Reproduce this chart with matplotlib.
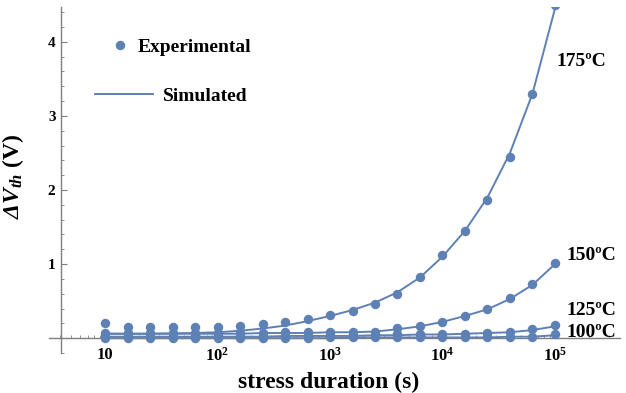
import matplotlib
matplotlib.use("Agg")
import matplotlib.pyplot as plt
import matplotlib.ticker as mticker
import numpy as np
from matplotlib.lines import Line2D

plt.rcParams.update(
    {
        "font.family": "Liberation Serif",
        "font.weight": "bold",
        "mathtext.fontset": "custom",
        "mathtext.rm": "Liberation Serif:bold",
        "mathtext.it": "Liberation Serif:italic:bold",
        "mathtext.bf": "Liberation Serif:bold",
        # sf slot used to get an italic capital Delta
        "mathtext.sf": "Liberation Serif:italic:bold",
    }
)

# stress time points (s), 5 per decade
t = [10, 15.85, 25.12, 39.81, 63.10, 100, 158.5, 251.2, 398.1, 631.0, 1000,
     1585, 2512, 3981, 6310, 10000, 15850, 25120, 39810, 63100, 100000]

# experimental dVth (V)
exp_175 = [0.20, 0.15, 0.15, 0.15, 0.15, 0.15, 0.16, 0.19, 0.22, 0.26, 0.31,
           0.37, 0.46, 0.60, 0.82, 1.12, 1.45, 1.87, 2.44, 3.30, 4.50]
exp_150 = [0.07, 0.07, 0.07, 0.07, 0.07, 0.07, 0.07, 0.07, 0.08, 0.08, 0.08,
           0.08, 0.09, 0.14, 0.17, 0.22, 0.30, 0.39, 0.54, 0.73, 1.01]
exp_125 = [0.03, 0.03, 0.03, 0.03, 0.03, 0.03, 0.03, 0.03, 0.03, 0.03, 0.04,
           0.04, 0.04, 0.05, 0.05, 0.06, 0.06, 0.07, 0.08, 0.12, 0.18]
exp_100 = [0.00, 0.00, 0.00, 0.00, 0.00, 0.00, 0.00, 0.00, 0.00, 0.00, 0.01,
           0.01, 0.01, 0.01, 0.01, 0.01, 0.01, 0.01, 0.02, 0.02, 0.05]

# simulated dVth (V)
sim_175 = [0.06, 0.06, 0.06, 0.065, 0.07, 0.08, 0.10, 0.13, 0.17, 0.23, 0.30,
           0.38, 0.48, 0.62, 0.82, 1.10, 1.45, 1.90, 2.50, 3.30, 4.45]
sim_150 = [0.06, 0.06, 0.06, 0.06, 0.06, 0.06, 0.06, 0.07, 0.07, 0.07, 0.08,
           0.08, 0.09, 0.12, 0.16, 0.22, 0.30, 0.39, 0.53, 0.72, 1.00]
sim_125 = [0.02, 0.02, 0.02, 0.02, 0.02, 0.02, 0.02, 0.02, 0.03, 0.03, 0.03,
           0.03, 0.04, 0.04, 0.05, 0.05, 0.06, 0.07, 0.08, 0.11, 0.16]
sim_100 = [0.00, 0.00, 0.00, 0.00, 0.00, 0.00, 0.00, 0.00, 0.00, 0.00, 0.00,
           0.01, 0.01, 0.01, 0.01, 0.01, 0.01, 0.01, 0.02, 0.02, 0.04]

temps = ["175ºC", "150ºC", "125ºC", "100ºC"]

BLUE = "#5E81B5"
AXIS_GREY = "#7f7f7f"

W, H = 626, 393
fig = plt.figure(figsize=(W / 100, H / 100), dpi=100)
ax = fig.add_axes([49 / W, 1 - 353 / H, (620 - 49) / W, (353 - 7) / H])

for sim in [sim_175, sim_150, sim_125, sim_100]:
    ax.plot(t, sim, color=BLUE, lw=1.4, zorder=2)
for ex in [exp_175, exp_150, exp_125, exp_100]:
    ax.plot(t, ex, "o", color=BLUE, ms=6.8, mec="none", zorder=3)

ax.set_xscale("log")
ax.set_xlim(10 ** 0.502, 10 ** 5.578)
ax.set_ylim(-0.2, 4.47)

for s in ["top", "right"]:
    ax.spines[s].set_visible(False)
ax.spines["left"].set_position(("data", 10 ** 0.609))
ax.spines["bottom"].set_position(("data", 0))
for s in ["left", "bottom"]:
    ax.spines[s].set_color(AXIS_GREY)
    ax.spines[s].set_linewidth(1.0)

ax.set_xticks([10, 1e2, 1e3, 1e4, 1e5])
ax.set_xticklabels(["10", "$10^{2}$", "$10^{3}$", "$10^{4}$", "$10^{5}$"])
ax.xaxis.set_minor_locator(mticker.LogLocator(base=10, subs=np.arange(2, 10)))
ax.xaxis.set_minor_formatter(mticker.NullFormatter())
ax.set_yticks([1, 2, 3, 4])
ax.yaxis.set_minor_locator(mticker.MultipleLocator(0.2))

ax.tick_params(axis="both", which="major", direction="in", length=4, width=0.8,
               color=AXIS_GREY, labelcolor="black")
ax.tick_params(axis="both", which="minor", direction="in", length=2, width=0.6,
               color=AXIS_GREY)
ax.tick_params(axis="x", which="major", pad=6, labelsize=12)
ax.tick_params(axis="y", which="major", pad=4, labelsize=11)

ax.set_xlabel("stress duration (s)", fontsize=17, fontweight="bold")
ax.xaxis.set_label_coords(0.49, -0.055)
ax.set_ylabel(r"$\mathsf{\Delta}\mathit{V_{th}}$ (V)", fontsize=17, fontweight="bold")
ax.yaxis.set_label_coords(-0.04, 0.51)

# curve labels
label_pos = [(10 ** 5.009, 3.73), (10 ** 5.106, 1.12), (10 ** 5.106, 0.38), (10 ** 5.106, 0.08)]
for lab, (x, y) in zip(temps, label_pos):
    ax.text(x, y, lab, fontsize=14, fontweight="bold", ha="left", va="center",
            clip_on=False)

# legend as two separate entries
h_exp = Line2D([], [], ls="none", marker="o", color=BLUE, ms=6.8, mec="none")
h_sim = Line2D([], [], color=BLUE, lw=1.4)
leg1 = fig.legend([h_exp], ["Experimental"], loc="center left",
                  bbox_to_anchor=(110 / W, 1 - 47 / H), frameon=False,
                  handlelength=1.0, handletextpad=0.4, borderpad=0, borderaxespad=0,
                  prop={"family": "Liberation Serif", "weight": "bold", "size": 14})
leg2 = fig.legend([h_sim], ["Simulated"], loc="center left",
                  bbox_to_anchor=(95 / W, 1 - 96 / H), frameon=False,
                  handlelength=3.0, handletextpad=0.5, borderpad=0, borderaxespad=0,
                  prop={"family": "Liberation Serif", "weight": "bold", "size": 14})

fig.savefig("out.png", dpi=100)
